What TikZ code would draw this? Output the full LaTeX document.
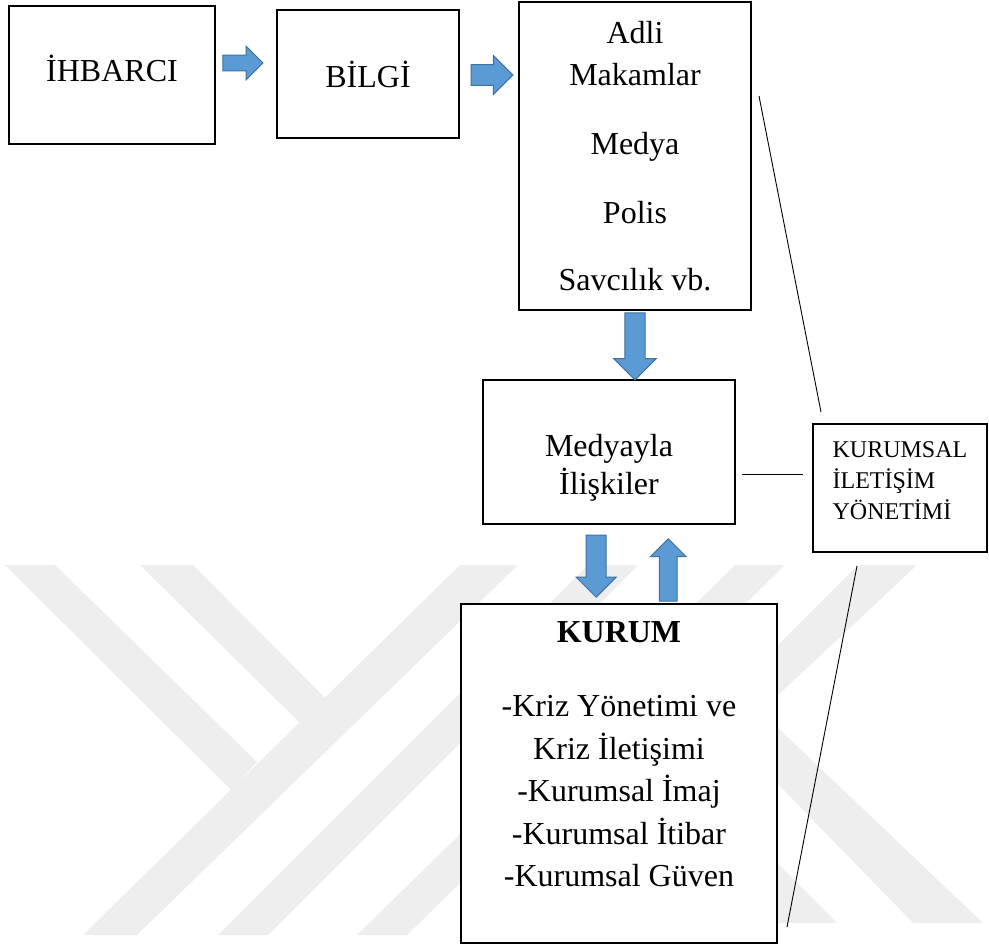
\documentclass[tikz,border=0pt]{standalone}
\usepackage{fontspec}
\setmainfont{Liberation Serif}
\usetikzlibrary{shapes.arrows}
\definecolor{arrowfill}{HTML}{5B9BD5}
\definecolor{arrowline}{HTML}{41719C}
\definecolor{wmgray}{HTML}{EEEEEE}
\newcommand{\padtop}[1]{\rule{0pt}{#1}}
\newcommand{\padbot}[1]{\rule[-#1]{0pt}{#1}}
\begin{document}
\begin{tikzpicture}[x=1pt,y=-1pt]
\tikzstyle{every node}+=[inner sep=0pt]
\tikzstyle{box}=[draw=black, fill=white, line width=1.1pt, align=center, font=\fontsize{32}{42}\selectfont]
\tikzstyle{barrow}=[single arrow, draw=arrowline, fill=arrowfill, line width=1pt, anchor=tail, inner xsep=0pt, minimum width=0pt]
\useasboundingbox (0,0) rectangle (989,947);
\fill [wmgray] (5,565) -- (55,565) -- (257,762) -- (231,790) -- cycle;
\fill [wmgray] (140,565) -- (193,565) -- (325,698) -- (300,723) -- cycle;
\fill [wmgray] (83,935) -- (137,935) -- (518,565) -- (460,565) -- cycle;
\fill [wmgray] (218,935) -- (268,935) -- (638,565) -- (588,565) -- cycle;
\fill [wmgray] (357,935) -- (407,935) -- (785,565) -- (735,565) -- cycle;
\fill [wmgray] (858,565) -- (917,565) -- (760,712) -- (760,663) -- cycle;
\fill [wmgray] (777,727) -- (983,923) -- (913,923) -- (777,783) -- cycle;
\fill [wmgray] (777,863) -- (837,923) -- (777,923) -- cycle;
\node [box, minimum width=206, minimum height=138] (ihbarci) at (112,75) {İHBARCI\padbot{13pt}};
\node [box, minimum width=182, minimum height=128] (bilgi) at (368,74) {BİLGİ};
\node [box, minimum width=232, minimum height=308] (adli) at (635,156) {Adli\\ Makamlar\\[27pt] Medya\\[27pt] Polis\\[25pt] Savcılık vb.};
\node [box, minimum width=252, minimum height=144, font=\fontsize{32}{37.3}\selectfont] (medya) at (609,452) {\padtop{53.6pt}Medyayla\\ İlişkiler};
\node [box, minimum width=174, minimum height=128, align=left, font=\fontsize{24}{31}\selectfont] (iletisim) at (900,488) {KURUMSAL\\ İLETİŞİM\\ YÖNETİMİ\padbot{13.9pt}};
\node [box, minimum width=316, minimum height=339, font=\fontsize{32}{42.4}\selectfont] (kurum) at (619,773.5) {\textbf{KURUM}\\[31.6pt] -Kriz Yönetimi ve\\ Kriz İletişimi\\ -Kurumsal İmaj\\ -Kurumsal İtibar\\ -Kurumsal Güven\padbot{38.6pt}};
\node [barrow, minimum height=40, inner ysep=7.35pt, single arrow head extend=8.95pt] (a1) at (222.3,63) {};
\node [barrow, minimum height=41.6, inner ysep=9.8pt, single arrow head extend=9.2pt] (a2) at (470.7,75) {};
\node [barrow, rotate=-90, minimum height=67, inner ysep=9.65pt, single arrow head extend=11.05pt] (a3) at (635,312.3) {};
\node [barrow, rotate=-90, minimum height=62, inner ysep=9.5pt, single arrow head extend=10pt] (a4) at (596.2,534.7) {};
\node [barrow, rotate=90, minimum height=62.4, inner ysep=8.35pt, single arrow head extend=9pt] (a5) at (668.3,601.7) {};
\coordinate (s1) at (759,96);
\coordinate (s2) at (821,412);
\coordinate (h1) at (742,474);
\coordinate (h2) at (803,474);
\coordinate (s3) at (857,566);
\coordinate (s4) at (787,927);
\draw [line width=0.9pt] (s1) -- (s2);
\draw [line width=0.9pt] (h1) -- (h2);
\draw [line width=0.9pt] (s3) -- (s4);
\end{tikzpicture}
\end{document}
